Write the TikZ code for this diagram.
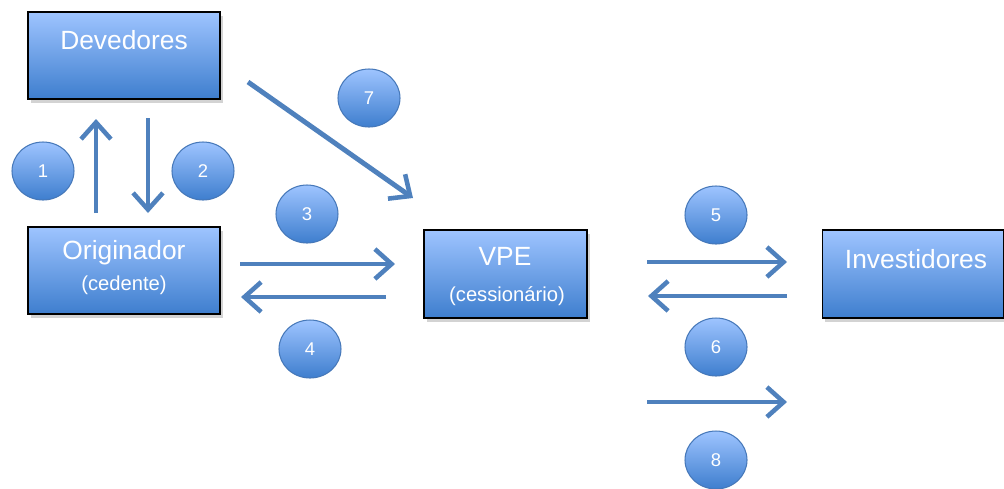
\documentclass[tikz,border=0pt]{standalone}
\usepackage{fontspec}
\setmainfont{Liberation Sans}
\usetikzlibrary{shapes.geometric,shadows,arrows.meta}

\definecolor{boxtop}{RGB}{158,196,255}
\definecolor{boxbot}{RGB}{62,126,206}
\definecolor{flowblue}{RGB}{79,129,189}
\definecolor{ringblue}{RGB}{70,120,185}

\begin{document}
\begin{tikzpicture}[x=0.02cm, y=-0.02cm,
    party/.style={rectangle, draw=black, line width=0.9pt,
        top color=boxtop, bottom color=boxbot,
        drop shadow={opacity=0.35, shadow xshift=1.5pt, shadow yshift=-2pt}},
    partytxt/.style={text=white, font=\fontsize{15}{17}\selectfont},
    subtxt/.style={text=white, font=\fontsize{11.5}{13}\selectfont},
    stepdot/.style={ellipse, draw=ringblue, line width=0.6pt,
        minimum width=1.24cm, minimum height=1.16cm,
        top color=boxtop, bottom color=boxbot,
        text=white, font=\fontsize{10.5}{12}\selectfont},
    flow/.style={draw=flowblue, line width=2.8pt,
        -{Straight Barb[length=9.5pt, width=17pt, line width=2.6pt]}}]

        \useasboundingbox (0,0) rectangle (1004,488);

        % boxes
        \node[party, minimum width=3.84cm, minimum height=1.74cm] at (124, 55.5)  (dev)  {};
        \node[party, minimum width=3.84cm, minimum height=1.74cm] at (124, 270.5) (orig) {};
        \node[party, minimum width=3.26cm, minimum height=1.76cm] at (505.5, 274) (vpe)  {};
        \node[party, minimum width=3.62cm, minimum height=1.76cm] at (913, 274)   (inv)  {};

        \node[partytxt] at (124, 40)  (devtxt)  {Devedores};
        \node[partytxt] at (124, 253) (origtxt) {Originador};
        \node[subtxt]   at (124, 285) (origsub) {(cedente)};
        \node[partytxt] at (505, 256) (vpetxt)  {VPE};
        \node[subtxt]   at (507, 296) (vpesub)  {(cessionário)};
        \node[partytxt] at (916, 259) (invtxt)  {Investidores};

        % numbered steps
        \node[stepdot] at (43, 171)  (s1) {1};
        \node[stepdot] at (203, 171) (s2) {2};
        \node[stepdot] at (307, 214) (s3) {3};
        \node[stepdot] at (310, 349) (s4) {4};
        \node[stepdot] at (716, 215) (s5) {5};
        \node[stepdot] at (716, 347) (s6) {6};
        \node[stepdot] at (369, 98)  (s7) {7};
        \node[stepdot] at (716, 460) (s8) {8};

        % arrow ends
        \coordinate (upA)    at (96, 213);
        \coordinate (upB)    at (96, 119);
        \coordinate (downA)  at (148, 118);
        \coordinate (downB)  at (148, 213);
        \coordinate (diagA)  at (248, 82);
        \coordinate (diagB)  at (413, 198);
        \coordinate (toVpeA) at (240, 264);
        \coordinate (toVpeB) at (395, 264);
        \coordinate (toOrA)  at (386, 297);
        \coordinate (toOrB)  at (241, 297);
        \coordinate (toInvA) at (647, 262);
        \coordinate (toInvB) at (787, 262);
        \coordinate (toVpA)  at (787, 296);
        \coordinate (toVpB)  at (648, 296);
        \coordinate (lastA)  at (647, 402);
        \coordinate (lastB)  at (787, 402);

        \draw[flow] (upA) -- (upB);
        \draw[flow] (downA) -- (downB);
        \draw[flow] (diagA) -- (diagB);
        \draw[flow] (toVpeA) -- (toVpeB);
        \draw[flow] (toOrA) -- (toOrB);
        \draw[flow] (toInvA) -- (toInvB);
        \draw[flow] (toVpA) -- (toVpB);
        \draw[flow] (lastA) -- (lastB);

    \end{tikzpicture}
\end{document}
